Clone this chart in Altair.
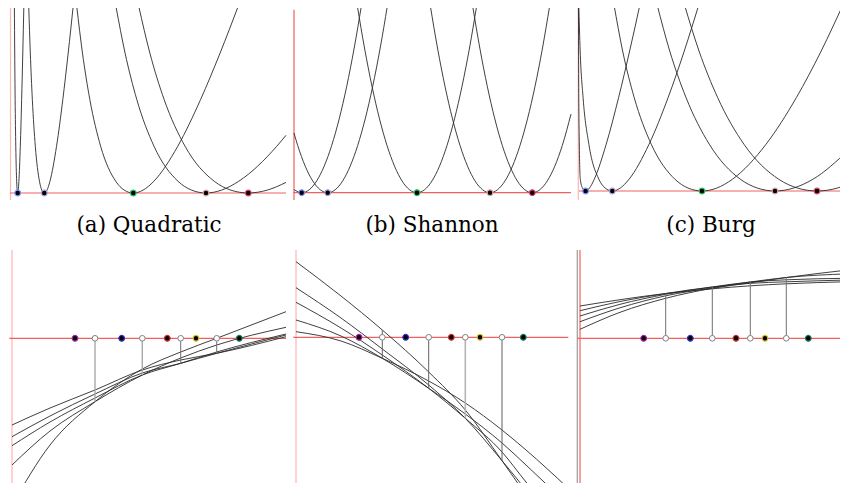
import altair as alt
import pandas as pd

# ---------------- data (units: px measured in each panel, x from the red vertical,
# y from the red horizontal, up positive) -----------------------------------------
captions = ["(a) Quadratic", "(b) Shannon", "(c) Burg"]

H_STD = [187, 140, 93.5, 46.75, 11.7, 2.9, 0, 2.9, 11.7, 46.75, 93.5, 140, 187]

# (a) Quadratic divergences
quad_centers = [7.2, 33.8, 122.8, 195.5, 237.8]
quad_x = [
    [3.88, 4.22, 4.65, 5.28, 6.17, 6.67, 7.2, 7.78, 8.40, 9.81, 11.15, 12.29, 13.36],
    [18.22, 19.81, 21.84, 24.81, 28.97, 31.30, 33.8, 36.50, 39.44, 46.04, 52.32, 57.70, 62.70],
    [66.19, 71.96, 79.33, 90.14, 105.24, 113.71, 122.8, 132.62, 143.31, 167.25, 190.09, 209.62, 227.79],
    [105.37, 114.56, 126.29, 143.50, 167.54, 181.03, 195.5, 211.14, 228.15, 266.27, 275.5],
    [128.17, 139.35, 153.62, 174.55, 203.79, 220.20, 237.8, 256.82, 275.5],
]
quad_y = [
    H_STD, H_STD, H_STD,
    [187, 140, 93.5, 46.75, 11.7, 2.9, 0, 2.9, 11.7, 46.75, 57.7],
    [187, 140, 93.5, 46.75, 11.7, 2.9, 0, 2.9, 10.6],
]

# (b) Shannon divergences
shan_centers = [7.7, 33.7, 123, 196, 238.3]
P_STD = [187, 144.7, 106.3, 47.25, 11.8, 2.95, 0, 2.95, 11.8, 47.25, 106.3, 144.7, 187]
shan_x = [
    [0, 7.7, 15.2, 22.7, 37.7, 52.7, 60.2, 67.4],
    [0, 3.7, 18.7, 26.2, 33.7, 41.2, 48.7, 63.7, 78.7, 86.2, 93.4],
    [63.3, 70.5, 78, 93, 108, 115.5, 123, 130.5, 138, 153, 168, 175.5, 182.7],
    [136.3, 143.5, 151, 166, 181, 188.5, 196, 203.5, 211, 226, 241, 248.5, 255.7],
    [178.6, 185.8, 193.3, 208.3, 223.3, 230.8, 238.3, 245.8, 253.3, 268.3, 277],
]
shan_y = [
    [3.1, 0, 2.95, 11.8, 47.25, 106.3, 144.7, 187],
    [59.6, 47.25, 11.8, 2.95, 0, 2.95, 11.8, 47.25, 106.3, 144.7, 187],
    P_STD, P_STD,
    [187, 144.7, 106.3, 47.25, 11.8, 2.95, 0, 2.95, 11.8, 47.25, 78.6],
]

# (c) Burg divergences
burg_centers = [7.3, 34, 123.7, 196.7, 238.7]
burg_x = [
    [0.15, 0.4, 0.9, 1.99, 4.24, 7.3, 11.18, 15.94, 27.89, 40.31, 51.34, 61.78],
    [0.453, 1.871, 4.77, 10.58, 20.62, 26.93, 34, 41.9, 50.71, 70.73, 89.83, 105.97, 120.76],
    [35.57, 44.34, 55.88, 72.98, 96.67, 109.83, 123.7, 138.39, 154.06, 187.72, 218.12, 242.89, 265.04],
    [78.62, 91.43, 107.70, 131.01, 162.18, 179.11, 196.7, 215.12, 234.55, 269.7],
    [105.93, 120.71, 139.31, 165.66, 200.5, 219.28, 238.7, 258.95, 269.7],
]
burg_y = [
    [187, 110, 55, 11.7, 2.9, 0, 2.9, 11.7, 46.75, 93.5, 140, 187],
    H_STD, H_STD,
    [187, 140, 93.5, 46.75, 11.7, 2.9, 0, 2.9, 11.7, 40.4],
    [187, 140, 93.5, 46.75, 11.7, 2.9, 0, 2.9, 6.66],
]
top_dot_colors = ["#7f8fff", "#a8a0d8", "#20c060", "#e0a0a0", "#e04070"]

# (d) Quadratic Voronoi
vd_sites = [63, 109.7, 155.3, 184, 227.3]
vd_bis = [83, 130.3, 168.7, 204.7]
vd_tip = [-63.4, -36.7, -25, -15]
vd_x = [0, 38, 83, 130.3, 168.7, 204.7, 274]
vd_y = [
    [-166.7, -106.7, -63.4, -30.7, -13.7, 0, 26.6],
    [-126.7, -92.7, -63.4, -36.7, -19.7, -6.7, 11],
    [-107.4, -83.7, -59.7, -36.7, -25, -13.7, 4.3],
    [-98.4, -77.7, -55.7, -34.7, -25, -15, 3.3],
    [-86.7, -69.7, -51.7, -31.7, -21.7, -15, 1.6],
]

# (e) Shannon Voronoi
ve_sites = [63, 109.7, 155.3, 184, 227.3]
ve_bis = [86.3, 132.7, 169.3, 206]
ve_top = [7.3, 0, 0, 0]
ve_tip = [-21, -51, -81, -123.4]
ve_x = [0, 45, 86.3, 132.7, 169.3, 206, 230, 272]
ve_y = [
    [5.6, -3.7, -21, -43.7, -65.7, -92.7, -112.7, -150.7],
    [17.3, 1.3, -21, -51, -76.7, -105.7, -127.7, -167.7],
    [35, 9.3, -17.7, -51, -81, -114.7, -144.7, -192.7],
    [49.6, 19.3, -11.7, -47.7, -81, -123.4, -152.7, -207.7],
    [75.6, 41.3, 7.3, -34.7, -72.7, -123.4, -157.7, -217.7],
]

# (f) Burg Voronoi
vf_sites = [63.7, 110.3, 156, 185, 228.3]
vf_bis = [85.7, 132.3, 170.3, 206.3]
vf_tip = [44.8, 51.3, 56.3, 60.8]
vf_x = [0, 40, 85.7, 132.3, 170.3, 206.3, 268]
vf_y = [
    [32.3, 38.6, 44.8, 49.5, 52.5, 54.5, 56.6],
    [27.6, 36.8, 44.8, 51.3, 55, 56.5, 58.3],
    [22.3, 34, 44, 51.3, 56.3, 58.5, 60],
    [16.6, 30.5, 42.5, 50.5, 56.3, 60.8, 64.5],
    [9, 26, 40, 50, 55.5, 60.8, 68.3],
]
bottom_dot_colors = ["#b020b0", "#3030d0", "#d03030", "#d8c020", "#108060"]

RED = "#f06060"
PINK = "#ffb4b4"
CURVE = "#2a2a2a"


def curves_frame(xs, ys):
    rows = []
    for i, (cx, cy) in enumerate(zip(xs, ys)):
        for j, (a, b) in enumerate(zip(cx, cy)):
            rows.append({"curve": i, "order": j, "x": a, "y": b})
    return pd.DataFrame(rows)


def panel(w, h, xdom, ydom, xs, ys, hline, vline, vcolor, dots, dot_colors,
          hollow=None, seg_top=None, seg_bot=None, seg_colors=None, seg_widths=None, gray_x=None):
    sx = alt.Scale(domain=xdom, nice=False, zero=False)
    sy = alt.Scale(domain=ydom, nice=False, zero=False)
    X = lambda f: alt.X(f, scale=sx, axis=None)
    Y = lambda f: alt.Y(f, scale=sy, axis=None)
    layers = []
    if gray_x is not None:
        layers.append(alt.Chart(pd.DataFrame({"x": [gray_x], "y": [ydom[0]], "y2": [ydom[1]]}))
                      .mark_rule(color="#9a9a9a", strokeWidth=1.2, clip=True)
                      .encode(x=X("x:Q"), y=Y("y:Q"), y2="y2:Q"))
    layers.append(alt.Chart(pd.DataFrame({"x": [0], "y": [vline[0]], "y2": [vline[1]]}))
                  .mark_rule(color=vcolor, strokeWidth=1.2, clip=True)
                  .encode(x=X("x:Q"), y=Y("y:Q"), y2="y2:Q"))
    layers.append(alt.Chart(pd.DataFrame({"x": [hline[0]], "x2": [hline[1]], "y": [0]}))
                  .mark_rule(color=RED, strokeWidth=1.2, clip=True)
                  .encode(x=X("x:Q"), x2="x2:Q", y=Y("y:Q")))
    layers.append(alt.Chart(curves_frame(xs, ys))
                  .mark_line(color=CURVE, strokeWidth=0.9, interpolate="monotone", clip=True)
                  .encode(x=X("x:Q"), y=Y("y:Q"), detail="curve:N", order="order:Q"))
    if hollow is not None:
        sdf = pd.DataFrame({"x": hollow, "y": seg_top, "y2": seg_bot, "c": seg_colors, "w": seg_widths})
        layers.append(alt.Chart(sdf)
                      .mark_rule(clip=True)
                      .encode(x=X("x:Q"), y=Y("y:Q"), y2="y2:Q",
                              color=alt.Color("c:N", scale=None),
                              strokeWidth=alt.StrokeWidth("w:Q", scale=None)))
    ddf = pd.DataFrame({"x": dots, "y": [0] * len(dots), "c": dot_colors})
    layers.append(alt.Chart(ddf).mark_point(filled=False, size=32, strokeWidth=1.2, fill="black", opacity=1)
                  .encode(x=X("x:Q"), y=Y("y:Q"), stroke=alt.Stroke("c:N", scale=None)))
    if hollow is not None:
        layers.append(alt.Chart(pd.DataFrame({"x": hollow, "y": [0] * len(hollow)}))
                      .mark_point(filled=False, size=32, strokeWidth=1, fill="white", color="#808080", opacity=1)
                      .encode(x=X("x:Q"), y=Y("y:Q")))
    return alt.layer(*layers).properties(width=w, height=h)


# The page shows x 8..840 and y 8..483 (the window is 848x491 with an 8px margin),
# one unit = one pixel in every panel.
# top row (page y 8..200); baselines at page y 193, 192.7, 191
pa = panel(282, 192, [-2.5, 279.5], [-7, 185], quad_x, quad_y, [-0.5, 275.5], [-10, 187], PINK,
           quad_centers, top_dot_colors)
pb = panel(284, 192, [-4, 280], [-7.3, 184.7], shan_x, shan_y, [-0.7, 277], [-10, 183], RED,
           shan_centers, top_dot_colors)
pc = panel(266, 192, [-4.3, 261.7], [-9, 183], burg_x, burg_y, [0.7, 269.7], [-12, 184], PINK,
           burg_centers, top_dot_colors)


def caption(w, cx, text):
    return (alt.Chart(pd.DataFrame({"t": [text]}))
            .mark_text(font="DejaVu Serif", fontSize=21.5, color="black", baseline="middle", align="center")
            .encode(text="t:N", x=alt.value(cx), y=alt.value(26))
            .properties(width=w, height=50))


caps = alt.hconcat(caption(282, 141, captions[0]), caption(284, 142, captions[1]),
                   caption(266, 137, captions[2]), spacing=0)

# bottom row (page y 250..483)
pd_ = panel(282, 233, [-4, 278], [-144.7, 88.3], [vd_x] * 5, vd_y, [-2.7, 274], [-152.7, 88.3], PINK,
            vd_sites, bottom_dot_colors, hollow=vd_bis, seg_top=[0] * 4, seg_bot=vd_tip,
            seg_colors=["#a8a8a8", "#a8a8a8", "#707070", "#707070"], seg_widths=[1.4, 1.4, 1, 1])
pe = panel(286, 233, [-6, 280], [-145.7, 87.3], [ve_x] * 5, ve_y, [-2.7, 272.3], [-153.7, 87.3], PINK,
           ve_sites, bottom_dot_colors, hollow=ve_bis, seg_top=ve_top, seg_bot=ve_tip,
           seg_colors=["#606060", "#606060", "#b4b4b4", "#606060"], seg_widths=[1, 1, 1.6, 1])
pf = panel(264, 233, [-4, 260], [-144.7, 88.3], [vf_x] * 5, vf_y, [-2.7, 268], [-152.7, 88.3], RED,
           vf_sites, bottom_dot_colors, hollow=vf_bis, seg_top=[0] * 4, seg_bot=vf_tip,
           seg_colors=["#707070"] * 4, seg_widths=[1, 1, 1, 1], gray_x=-2.7)

top = alt.hconcat(pa, pb, pc, spacing=0)
bottom = alt.hconcat(pd_, pe, pf, spacing=0)

chart = (alt.vconcat(top, caps, bottom, spacing=0)
         .properties(padding=0)
         .configure_view(stroke=None))

chart.save("out.html", embed_options={"renderer": "svg", "actions": False})
